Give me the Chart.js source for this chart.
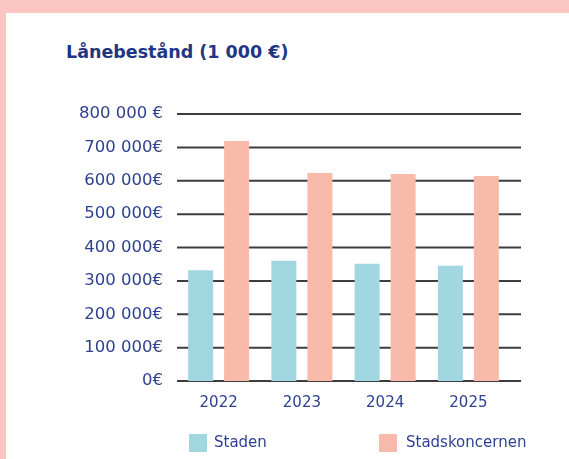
<!DOCTYPE html>
<html>
<head>
<meta charset="utf-8">
<script src="https://cdn.jsdelivr.net/npm/chart.js@4.4.1/dist/chart.umd.min.js"></script>
<style>
  html, body { margin: 0; padding: 0; }
  body { width: 569px; height: 459px; background: #f9c6c1; position: relative; overflow: hidden; font-family: "DejaVu Sans", sans-serif; }
  .panel { position: absolute; left: 6px; top: 13px; right: 0; bottom: 0; background: #fff; }
  .chart-title { position: absolute; left: 66px; top: 44px; margin: 0; font-size: 17.5px; line-height: 1; font-weight: bold; color: #1f3683; white-space: nowrap; }
  #chart-wrap { position: absolute; left: 0; top: 0; width: 569px; height: 459px; }
  .legend-item { position: absolute; top: 434px; height: 18px; }
  .legend-box { position: absolute; left: 0; top: 0; width: 18px; height: 18px; }
  .legend-text { position: absolute; top: 1px; font-size: 15px; line-height: 1; color: #2f4191; white-space: nowrap; }
</style>
</head>
<body>
<div class="panel"></div>
<div class="chart-title">Lånebestånd (1 000 €)</div>
<div id="chart-wrap"><canvas id="loan-chart" width="569" height="459"></canvas></div>
<div id="legend"></div>

<script>
/* Lånebestånd chart */

const years = ['2022', '2023', '2024', '2025'];
const stadenValues = [332000, 360000, 351000, 345000];
const koncernValues = [719000, 623000, 620000, 614000];
const yTickLabels = ['0€', '100 000€', '200 000€', '300 000€', '400 000€', '500 000€', '600 000€', '700 000€', '800 000 €'];

const seriesNames = ['Staden', 'Stadskoncernen'];
const seriesColors = ['#a0d7e1', '#f7baab'];

// grid lines run a bit past the last bar group, like in the original
const gridLines = {
  id: 'gridLines',
  beforeDatasetsDraw(chart) {
    const { ctx, chartArea, scales: { y } } = chart;
    ctx.save();
    ctx.strokeStyle = '#3d3d3d';
    ctx.lineWidth = 2;
    y.ticks.forEach(t => {
      const py = y.getPixelForValue(t.value);
      ctx.beginPath();
      ctx.moveTo(chartArea.left, py);
      ctx.lineTo(chartArea.right + 11, py);
      ctx.stroke();
    });
    ctx.restore();
  }
};

const tickFont = { family: '"DejaVu Sans", sans-serif', size: 16.5 };
const tickColor = '#2f4191';

new Chart(document.getElementById('loan-chart'), {
  type: 'bar',
  data: {
    labels: years,
    datasets: [
      { label: seriesNames[0], data: stadenValues, backgroundColor: seriesColors[0], borderWidth: 0 },
      { label: seriesNames[1], data: koncernValues, backgroundColor: seriesColors[1], borderWidth: 0 }
    ]
  },
  options: {
    responsive: false,
    animation: false,
    categoryPercentage: 0.865,
    barPercentage: 0.694,
    layout: { padding: { top: 114, right: 59, bottom: 38, left: 0 } },
    plugins: {
      legend: { display: false },
      title: { display: false },
      tooltip: { enabled: false }
    },
    scales: {
      x: {
        grid: { display: false, drawTicks: false },
        border: { display: false },
        ticks: { color: tickColor, font: { family: tickFont.family, size: 15 }, padding: 13 },
        afterFit: scale => { scale.height = 40; }
      },
      y: {
        min: 0,
        max: 800000,
        grid: { display: false, drawTicks: false },
        border: { display: false },
        ticks: {
          stepSize: 100000,
          color: tickColor,
          font: tickFont,
          padding: 14,
          callback: (v, i) => yTickLabels[i]
        },
        afterFit: scale => { scale.width = 177; }
      }
    }
  },
  plugins: [gridLines]
});

// legend, spread out like the original
const legendLeft = [189, 379];
const legendTextGap = [25, 27];
document.getElementById('legend').innerHTML = seriesNames.map((name, i) => `
  <div class="legend-item" style="left: ${legendLeft[i]}px;">
    <div class="legend-box" style="background: ${seriesColors[i]};"></div>
    <div class="legend-text" style="left: ${legendTextGap[i]}px;">${name}</div>
  </div>
`).join('');
</script>
</body>
</html>
